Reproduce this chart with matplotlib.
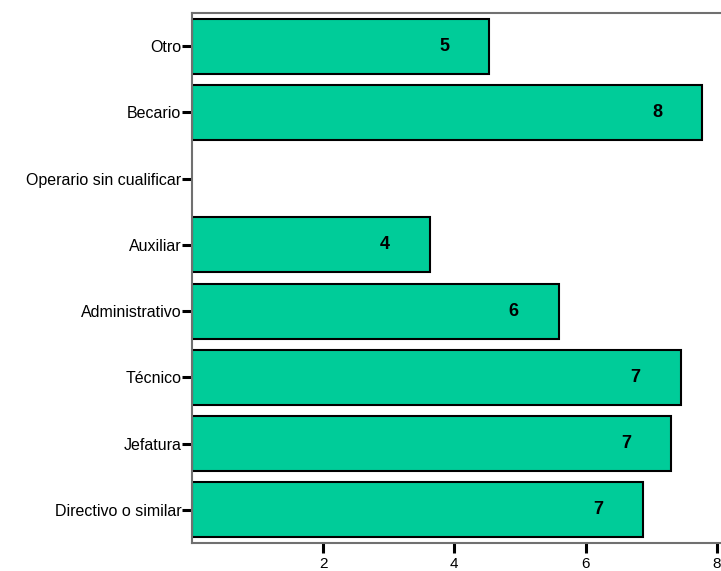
import matplotlib
matplotlib.use("Agg")
import matplotlib.pyplot as plt
import numpy as np

categories = ["Directivo o similar", "Jefatura", "Técnico", "Administrativo",
              "Auxiliar", "Operario sin cualificar", "Becario", "Otro"]
values = [6.88, 7.31, 7.45, 5.59, 3.63, np.nan, 7.78, 4.53]
value_labels = ["7", "7", "7", "6", "4", "", "8", "5"]
xticks = [2, 4, 6, 8]

plt.rcParams['font.family'] = ['Liberation Sans', 'DejaVu Sans']

fig = plt.figure(figsize=(7.21, 5.71), dpi=100)
ax = fig.add_axes([192/721, 28/571, 528/721, 530/571])

y = np.arange(len(categories))
ax.barh(y, values, height=0.83, color="#00CC99", edgecolor="black", linewidth=1.5)

for yi, v, lab in zip(y, values, value_labels):
    if lab and not np.isnan(v):
        ax.annotate(lab, xy=(v, yi), xytext=(-32.5, 0), textcoords="offset points",
                    ha="center", va="center", fontsize=13, fontweight="bold")

ax.set_xlim(0, 8.05)
ax.set_ylim(-0.5, 7.5)
ax.set_yticks(y)
ax.set_yticklabels(categories, fontsize=11.5)
ax.set_xticks(xticks)
ax.set_xticklabels([str(t) for t in xticks], fontsize=11)
ax.tick_params(axis="y", length=7.2, width=2.2, color="black", pad=0.5)
ax.tick_params(axis="x", length=7.2, width=2.2, color="black", pad=3)

for s in ["left", "top", "bottom"]:
    ax.spines[s].set_color("#707070")
    ax.spines[s].set_linewidth(1.5)
ax.spines["right"].set_visible(False)

fig.savefig("out.png", dpi=100)
